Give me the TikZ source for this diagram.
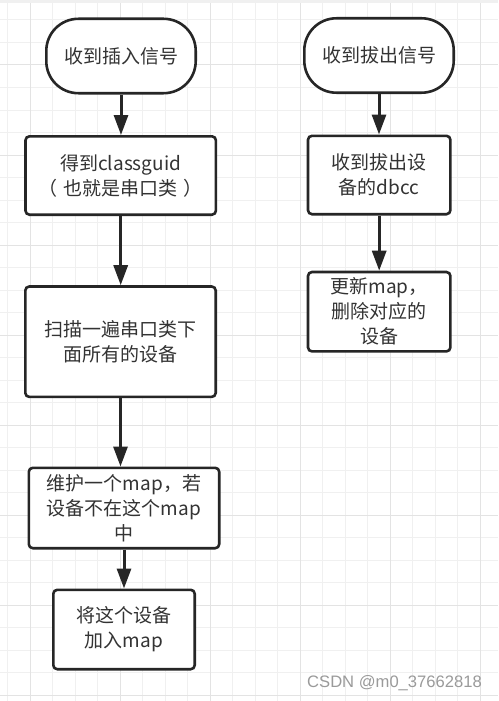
\documentclass[tikz,border=0pt]{standalone}
\usepackage{fontspec}
\setmainfont{Noto Sans CJK SC}
\newfontfamily\wmfont{Liberation Sans}
\usetikzlibrary{arrows.meta}
\definecolor{txtc}{HTML}{333333}
\definecolor{bordc}{HTML}{262626}
\definecolor{gridminor}{HTML}{F0F0F0}
\definecolor{gridmajor}{HTML}{E3E3E3}
\definecolor{wmc}{HTML}{9A9A9A}
\tikzset{
  boxs/.style={draw=bordc, line width=2.6pt, fill=white, rounded corners=4pt,
    align=center, text=txtc, inner sep=0pt,
    font=\fontsize{19}{25}\selectfont},
  terms/.style={boxs, rounded corners=32pt},
  arr/.style={line width=3pt, draw=bordc, -{Triangle[length=20pt,width=14pt]}},
}
\begin{document}
\begin{tikzpicture}[x=1pt,y=-1pt]
\useasboundingbox (0,0) rectangle (498,701);
\fill[white] (0,0) rectangle (498,701);
% grid
\foreach \k in {0,...,21} {
  \draw[gridminor, line width=1pt] ({7.5+22.5*\k},0) -- ({7.5+22.5*\k},701);
}
\foreach \k in {1,...,31} {
  \draw[gridminor, line width=1pt] (0,{-2.5+22.5*\k}) -- (498,{-2.5+22.5*\k});
}
\foreach \k in {0,...,5} {
  \draw[gridmajor, line width=1pt] ({30+90*\k},0) -- ({30+90*\k},701);
}
\foreach \k in {0,...,7} {
  \draw[gridmajor, line width=1pt] (0,{65+90*\k}) -- (498,{65+90*\k});
}
\fill[gridminor] (0,0) rectangle (498,3);
% left column
\node[terms, minimum width=149.4pt, minimum height=74.4pt] (startL) at (121,56) {收到插入信号};
\node[boxs, minimum width=190.4pt, minimum height=78.4pt] (getL) at (120.7,175.5) {得到classguid\\（\hspace{6pt}也就是串口类\hspace{6pt}）};
\node[boxs, minimum width=190.4pt, minimum height=110.4pt] (scanL) at (120.5,341.7) {扫描一遍串口类下\\面所有的设备};
\node[boxs, minimum width=190.4pt, minimum height=80.4pt] (mapL) at (124,508) {维护一个map，若\\设备不在这个map\\中};
\node[boxs, minimum width=141.4pt, minimum height=79.4pt] (addL) at (124,629.5) {将这个设备\\加入map};
% right column
\node[terms, minimum width=149.4pt, minimum height=74.4pt] (startR) at (379,55.5) {收到拔出信号};
\node[boxs, minimum width=142.4pt, minimum height=78.4pt] (getR) at (379.2,175) {收到拔出设\\备的dbcc};
\node[boxs, minimum width=142.4pt, minimum height=79.4pt] (updR) at (379.2,311.7) {更新map，\\删除对应的\\设备};
% connectors
\draw[arr] (startL.south) -- (startL.south |- getL.north);
\draw[arr] (getL.south) -- (getL.south |- scanL.north);
\draw[arr] (scanL.south) -- (scanL.south |- mapL.north);
\draw[arr] (mapL.south) -- (addL.north);
\draw[arr] (startR.south) -- (startR.south |- getR.north);
\draw[arr] (getR.south) -- (getR.south |- updR.north);
% watermark
\node[anchor=west, inner sep=0pt, text=wmc, font=\wmfont\fontsize{16.6}{18}\selectfont] (wm) at (307,683.5) {CSDN @m0\_37662818};
\end{tikzpicture}
\end{document}
